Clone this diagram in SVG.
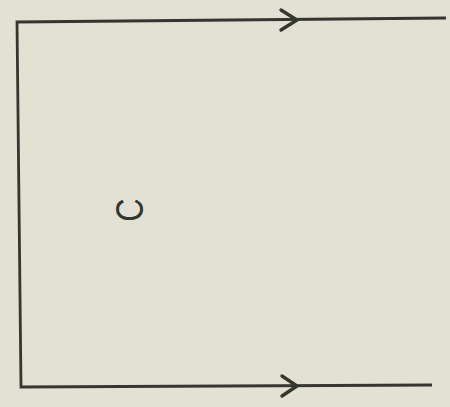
<svg xmlns="http://www.w3.org/2000/svg" width="450" height="407" viewBox="0 0 450 407">
<style>
.ln{fill:none;stroke:#363631;stroke-width:2.8;stroke-linecap:butt;stroke-linejoin:miter}
.ah{fill:none;stroke:#363631;stroke-width:3.4;stroke-linejoin:miter;stroke-linecap:round}
.lbl{font-family:"Liberation Sans",Arial,sans-serif;font-size:38px;fill:#363631}
</style>
<rect width="450" height="407" fill="#e3e1d4"/>
<g id="connectors">
<path class="ln" d="M446,18 L17,22 L21,387 L432,385"/>
<polyline class="ah" points="281,10 297,20 281,30"/>
<polyline class="ah" points="282,376 297,386 282,396"/>
</g>
<g id="label-c">
<text class="lbl" transform="translate(130,210) rotate(-90) scale(0.85,1)" text-anchor="middle" dominant-baseline="central">C</text>
</g>
</svg>
